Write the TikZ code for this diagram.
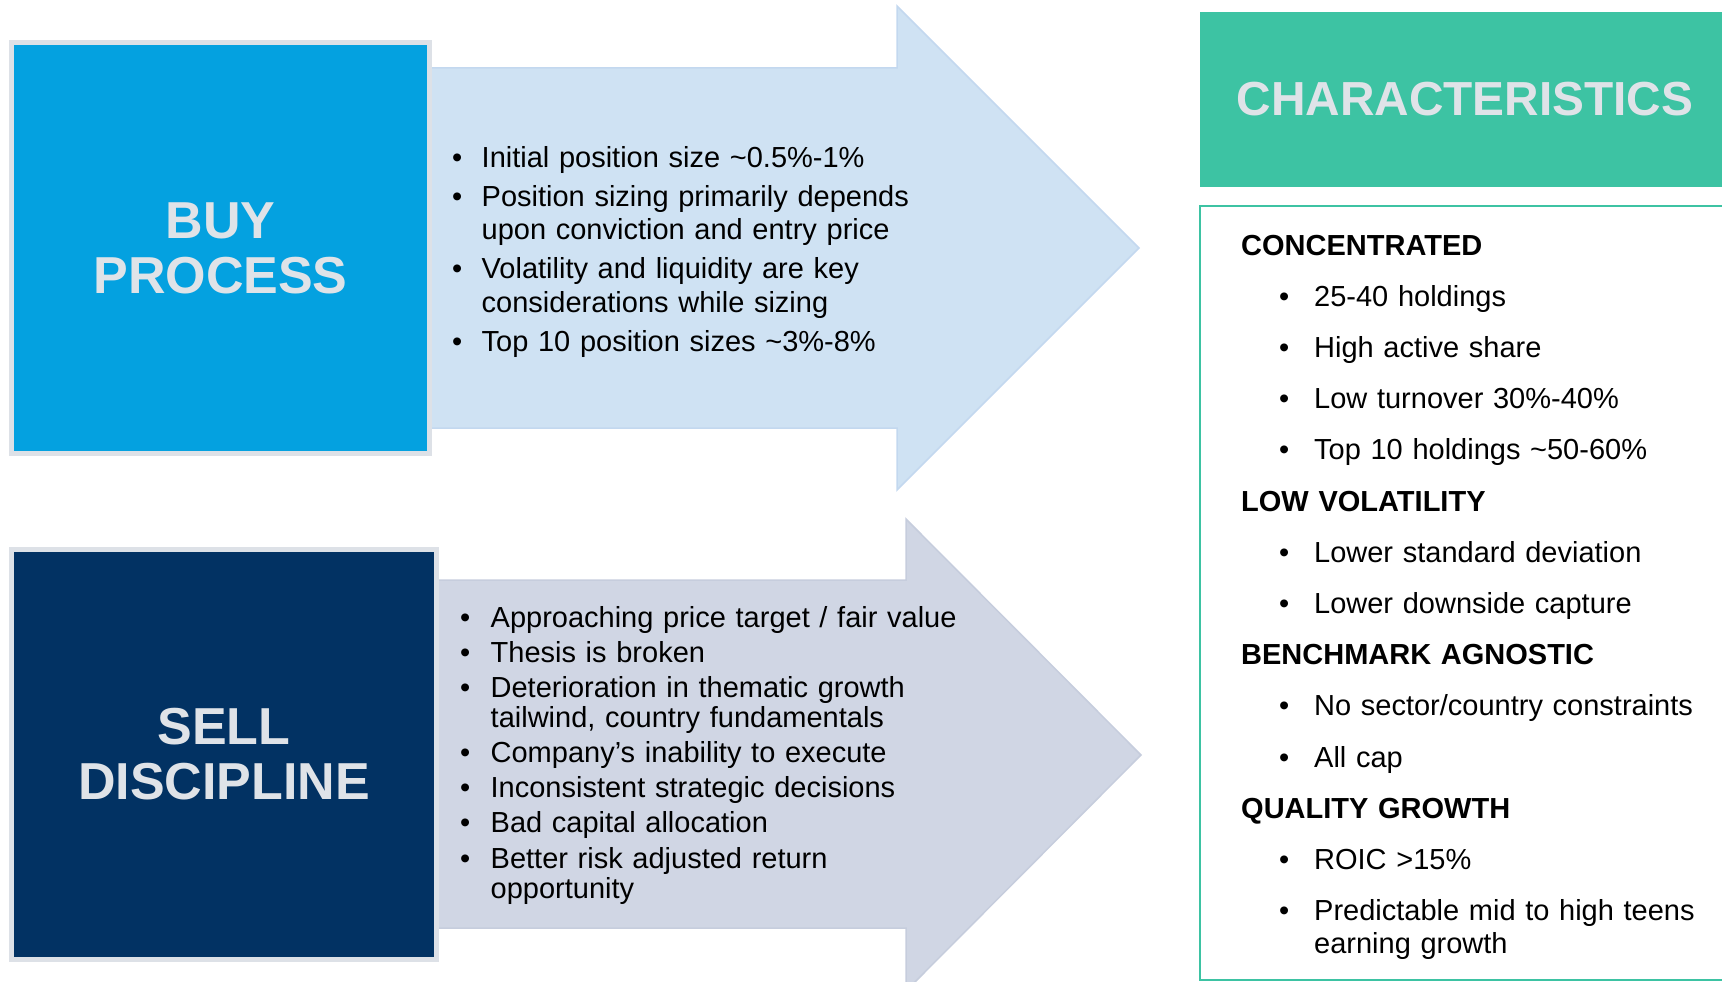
\documentclass[tikz,border=0pt]{standalone}
\usepackage{fontspec}
\setmainfont{Liberation Sans}
\usepackage{tikz}
\usetikzlibrary{positioning}

\definecolor{buyblue}{HTML}{04A1E0}
\definecolor{navy}{HTML}{023263}
\definecolor{boxgray}{HTML}{DDE1E7}
\definecolor{titlegray}{HTML}{DFE3E8}
\definecolor{buyfill}{HTML}{CFE2F3}
\definecolor{buyedge}{HTML}{C3D8EF}
\definecolor{sellfill}{HTML}{D0D6E4}
\definecolor{selledge}{HTML}{C6CDDD}
\definecolor{charteal}{HTML}{3DC3A3}

\tikzstyle{title} = [font=\fontsize{52}{55}\selectfont\bfseries, text=titlegray, align=center]
\tikzstyle{process} = [title, draw=boxgray, line width=5pt]
\tikzstyle{bigarrow} = [line width=1.5pt, line join=miter]
\tikzstyle{bullets} = [anchor=base west, inner sep=0pt, align=left]

\newcommand{\bul}[1]{\makebox[#1][l]{•}}

\begin{document}
\begin{tikzpicture}[x=1pt, y=-1pt]
\clip (0,0) rectangle (1722,982);

\draw[bigarrow, fill=buyfill, draw=buyedge] (429,68) -- (897,68) -- (897,6) -- (1139,248)
  -- (897,490) -- (897,428) -- (429,428) -- cycle;
\draw[bigarrow, fill=sellfill, draw=selledge] (436,580) -- (906,580) -- (906,519) -- (1141,755)
  -- (906,991) -- (906,928) -- (436,928) -- cycle;

\node[process, fill=buyblue, minimum width=418pt, minimum height=411pt] (buy) at (220.5,248) {BUY\\PROCESS};
\node[process, fill=navy, minimum width=425pt, minimum height=410pt] (sell) at (224,754.5) {SELL\\DISCIPLINE};

\node[bullets, text width=560pt, font=\fontsize{29}{33.5}\selectfont] (buylist) at (452,167) {%
\bul{29.5pt}Initial position size \textasciitilde 0.5\%-1\%\\[5.5pt]
\bul{29.5pt}Position sizing primarily depends\\
\hspace*{29.5pt}upon conviction and entry price\\[5.5pt]
\bul{29.5pt}Volatility and liquidity are key\\
\hspace*{29.5pt}considerations while sizing\\[5.5pt]
\bul{29.5pt}Top 10 position sizes \textasciitilde 3\%-8\%};

\node[bullets, text width=600pt, font=\fontsize{29}{30}\selectfont] (selllist) at (460,627) {%
\bul{30.5pt}Approaching price target / fair value\\[5pt]
\bul{30.5pt}Thesis is broken\\[5pt]
\bul{30.5pt}Deterioration in thematic growth\\
\hspace*{30.5pt}tailwind, country fundamentals\\[5pt]
\bul{30.5pt}Company’s inability to execute\\[5pt]
\bul{30.5pt}Inconsistent strategic decisions\\[5.5pt]
\bul{30.5pt}Bad capital allocation\\[5.5pt]
\bul{30.5pt}Better risk adjusted return\\
\hspace*{30.5pt}opportunity};

\node[fill=charteal, minimum width=530pt, minimum height=175pt, text=titlegray,
  font=\fontsize{47.8}{50}\selectfont\bfseries] (hdr) at (1465,99.5) {CHARACTERISTICS};
\node[draw=charteal, line width=2pt, minimum width=530pt, minimum height=774pt, below=18pt of hdr] (chars) {};

\node[bullets, text width=600pt, font=\fontsize{29}{51.2}\selectfont] (charlist) at (1241,255) {%
\textbf{CONCENTRATED}\\
\hspace*{38pt}\bul{35pt}25-40 holdings\\
\hspace*{38pt}\bul{35pt}High active share\\
\hspace*{38pt}\bul{35pt}Low turnover 30\%-40\%\\
\hspace*{38pt}\bul{35pt}Top 10 holdings \textasciitilde 50-60\%\\
\textbf{LOW VOLATILITY}\\
\hspace*{38pt}\bul{35pt}Lower standard deviation\\
\hspace*{38pt}\bul{35pt}Lower downside capture\\
\textbf{BENCHMARK AGNOSTIC}\\
\hspace*{38pt}\bul{35pt}No sector/country constraints\\
\hspace*{38pt}\bul{35pt}All cap\\
\textbf{QUALITY GROWTH}\\
\hspace*{38pt}\bul{35pt}ROIC >15\%\\
\hspace*{38pt}\bul{35pt}Predictable mid to high teens\\[-18pt]
\hspace*{73pt}earning growth};

\end{tikzpicture}
\end{document}
